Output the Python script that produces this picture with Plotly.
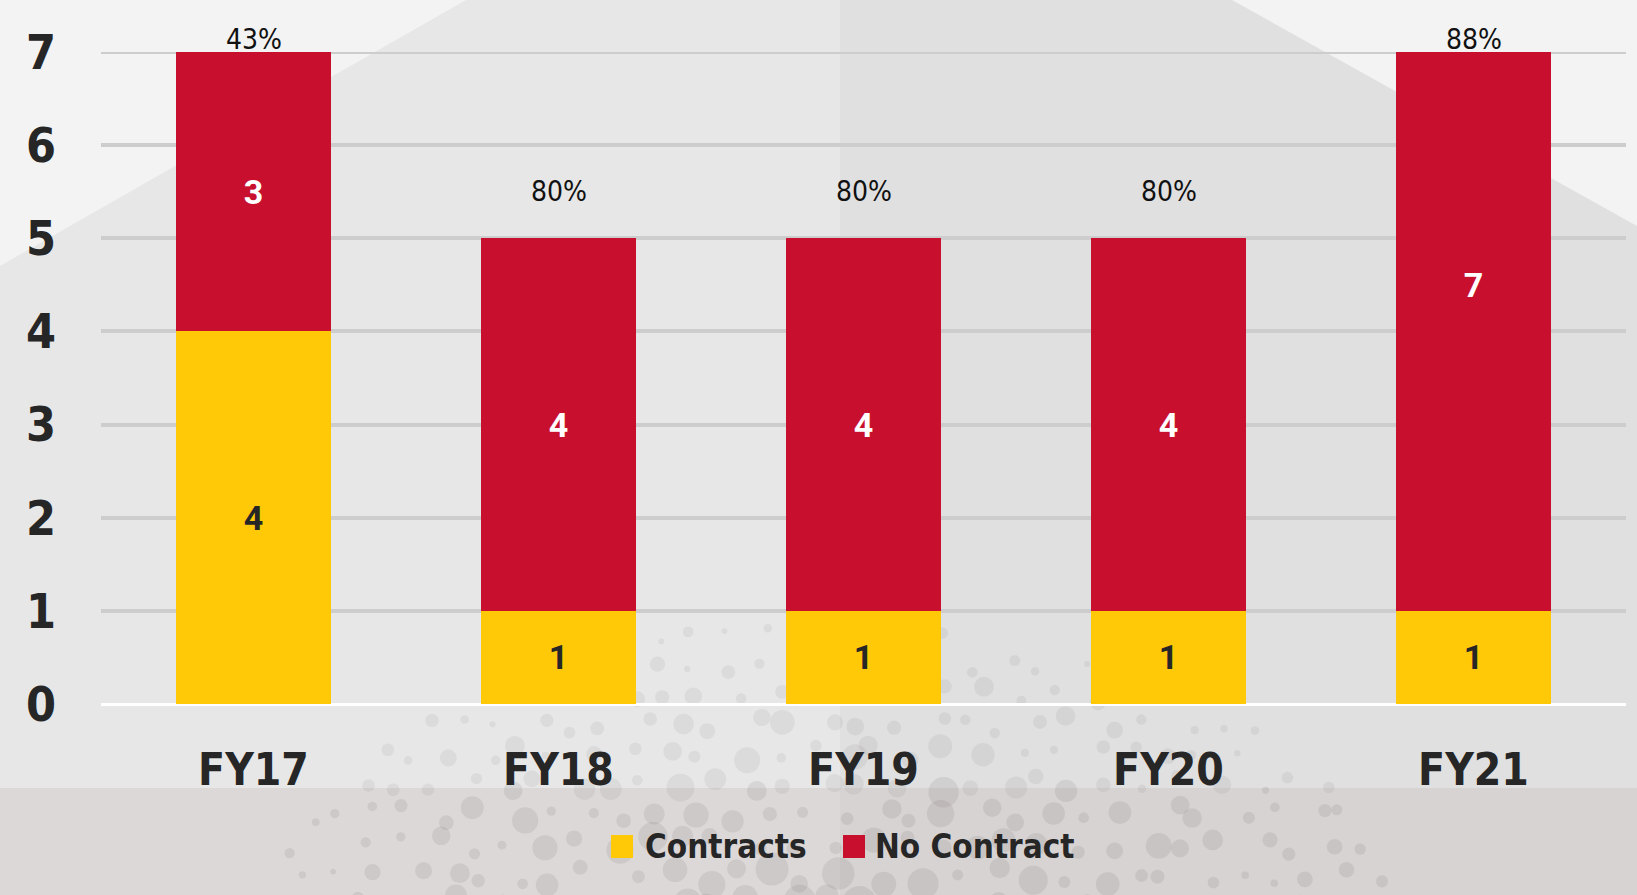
import math
import plotly.graph_objects as go

# ---- data ----
years = ["FY17", "FY18", "FY19", "FY20", "FY21"]
contracts = [4, 1, 1, 1, 1]
no_contract = [3, 4, 4, 4, 7]
series_names = ["Contracts", "No Contract"]
y_ticks = [0, 1, 2, 3, 4, 5, 6, 7]

YELLOW = "#FFC907"
RED = "#C8102E"
INK = "#262626"
NARROW = "Liberation Sans Narrow, DejaVu Sans Condensed, Liberation Sans, sans-serif"

# ---- page geometry ----
W, H = 1637, 895
ML, MR, MT, MB = 101, 11, 52, 191
PW, PH = W - ML - MR, H - MT - MB


def fx(x):
    return (x - ML) / PW


def fy(y):
    return (H - MB - y) / PH


def rect(x0, y0, x1, y1, color):
    return dict(type="rect", xref="paper", yref="paper", layer="below",
                x0=fx(x0), x1=fx(x1), y0=fy(y0), y1=fy(y1),
                fillcolor=color, line=dict(width=0))


def poly(points, color):
    d = "M " + " L ".join(f"{fx(a):.5f},{fy(b):.5f}" for a, b in points) + " Z"
    return dict(type="path", xref="paper", yref="paper", layer="below",
                path=d, fillcolor=color, line=dict(width=0))


def hash01(i, j, s):
    v = math.sin(i * 12.9898 + j * 78.233 + s * 37.719) * 43758.5453
    return v - math.floor(v)


shapes = []
# background panels
shapes.append(rect(840, 0, W, 790, "#e0e0e0"))
shapes.append(poly([(0, 0), (466, 0), (0, 266)], "#f3f3f3"))
shapes.append(poly([(1232, 0), (W, 0), (W, 226)], "#f3f3f3"))
shapes.append(rect(0, 788, 840, H, "#dcd8d8"))
shapes.append(rect(840, 788, W, H, "#d7d3d3"))

# dotted texture fanning out from the lower middle
cx, cy = 830, 940
for row in range(12):
    for col in range(34):
        xx = 250 + col * 36 + (hash01(row, col, 1) - 0.5) * 26 + (18 if row % 2 else 0)
        yy = 905 - row * 30 + (hash01(row, col, 2) - 0.5) * 20
        e = ((xx - cx) / 570) ** 2 + ((yy - cy) / 320) ** 2
        if e > 1.0:
            continue
        r = (5 + 11 * hash01(row, col, 3)) * (1.15 - 0.75 * e)
        if r < 2.5:
            continue
        alpha = 0.13 if yy > 790 else 0.09
        shapes.append(dict(type="circle", xref="paper", yref="paper", layer="below",
                           x0=fx(xx - r), x1=fx(xx + r), y0=fy(yy + r), y1=fy(yy - r),
                           fillcolor=f"rgba(110,100,100,{alpha})", line=dict(width=0)))

# top gridline (sits on the range edge, so drawn explicitly)
shapes.append(dict(type="line", xref="paper", yref="y", layer="below",
                   x0=0, x1=1, y0=y_ticks[-1], y1=y_ticks[-1],
                   line=dict(color="#cdcdcd", width=4)))

# legend swatches
shapes.append(rect(611, 835, 633, 858, YELLOW))
shapes.append(rect(843, 835, 865, 858, RED))

fig = go.Figure()
fig.add_trace(go.Bar(
    x=years, y=contracts, name=series_names[0], marker=dict(color=YELLOW, line=dict(width=0)),
    text=contracts, textposition="inside", insidetextanchor="middle", textangle=0,
    constraintext="none",
    textfont=dict(family="Roboto", size=34, color=INK, weight="bold"),
    showlegend=False, cliponaxis=True,
))
fig.add_trace(go.Bar(
    x=years, y=no_contract, name=series_names[1], marker=dict(color=RED, line=dict(width=0)),
    text=no_contract, textposition="inside", insidetextanchor="middle", textangle=0,
    constraintext="none",
    textfont=dict(family="Roboto", size=34, color="white", weight="bold"),
    showlegend=False, cliponaxis=True,
))

annotations = []
top = y_ticks[-1]
for yr, c, n in zip(years, contracts, no_contract):
    total = c + n
    capped = total + 0.5 > top
    annotations.append(dict(
        x=yr, y=top if capped else total + 0.5, xref="x", yref="y",
        yshift=13 if capped else 0,
        text=f"{n / total:.0%}", showarrow=False, yanchor="middle",
        font=dict(family=NARROW, size=28, color="#111111"),
    ))

# legend labels
for name, x0 in zip(series_names, [643, 873]):
    annotations.append(dict(
        x=fx(x0), y=fy(846), xref="paper", yref="paper", text=name, showarrow=False,
        xanchor="left", yanchor="middle",
        font=dict(family=NARROW, size=33, color=INK, weight="bold"),
    ))

fig.update_layout(
    width=W, height=H,
    margin=dict(l=ML, r=MR, t=MT, b=MB),
    paper_bgcolor="#e7e7e7", plot_bgcolor="rgba(0,0,0,0)",
    barmode="stack", bargap=0.495,
    shapes=shapes, annotations=annotations,
    showlegend=False,
)
fig.update_xaxes(
    showgrid=False, showline=False, ticks="",
    tickfont=dict(family=NARROW, size=44, color=INK, weight="bold"),
    ticklabelstandoff=36,
)
fig.update_yaxes(
    range=[0, top], tickvals=y_ticks, showgrid=True, gridcolor="#cdcdcd", gridwidth=4,
    zeroline=True, zerolinecolor="white", zerolinewidth=3, showline=False, ticks="",
    tickfont=dict(family=NARROW, size=48, color=INK, weight="bold"),
    ticklabelstandoff=44,
)

fig.write_html("out.html")
